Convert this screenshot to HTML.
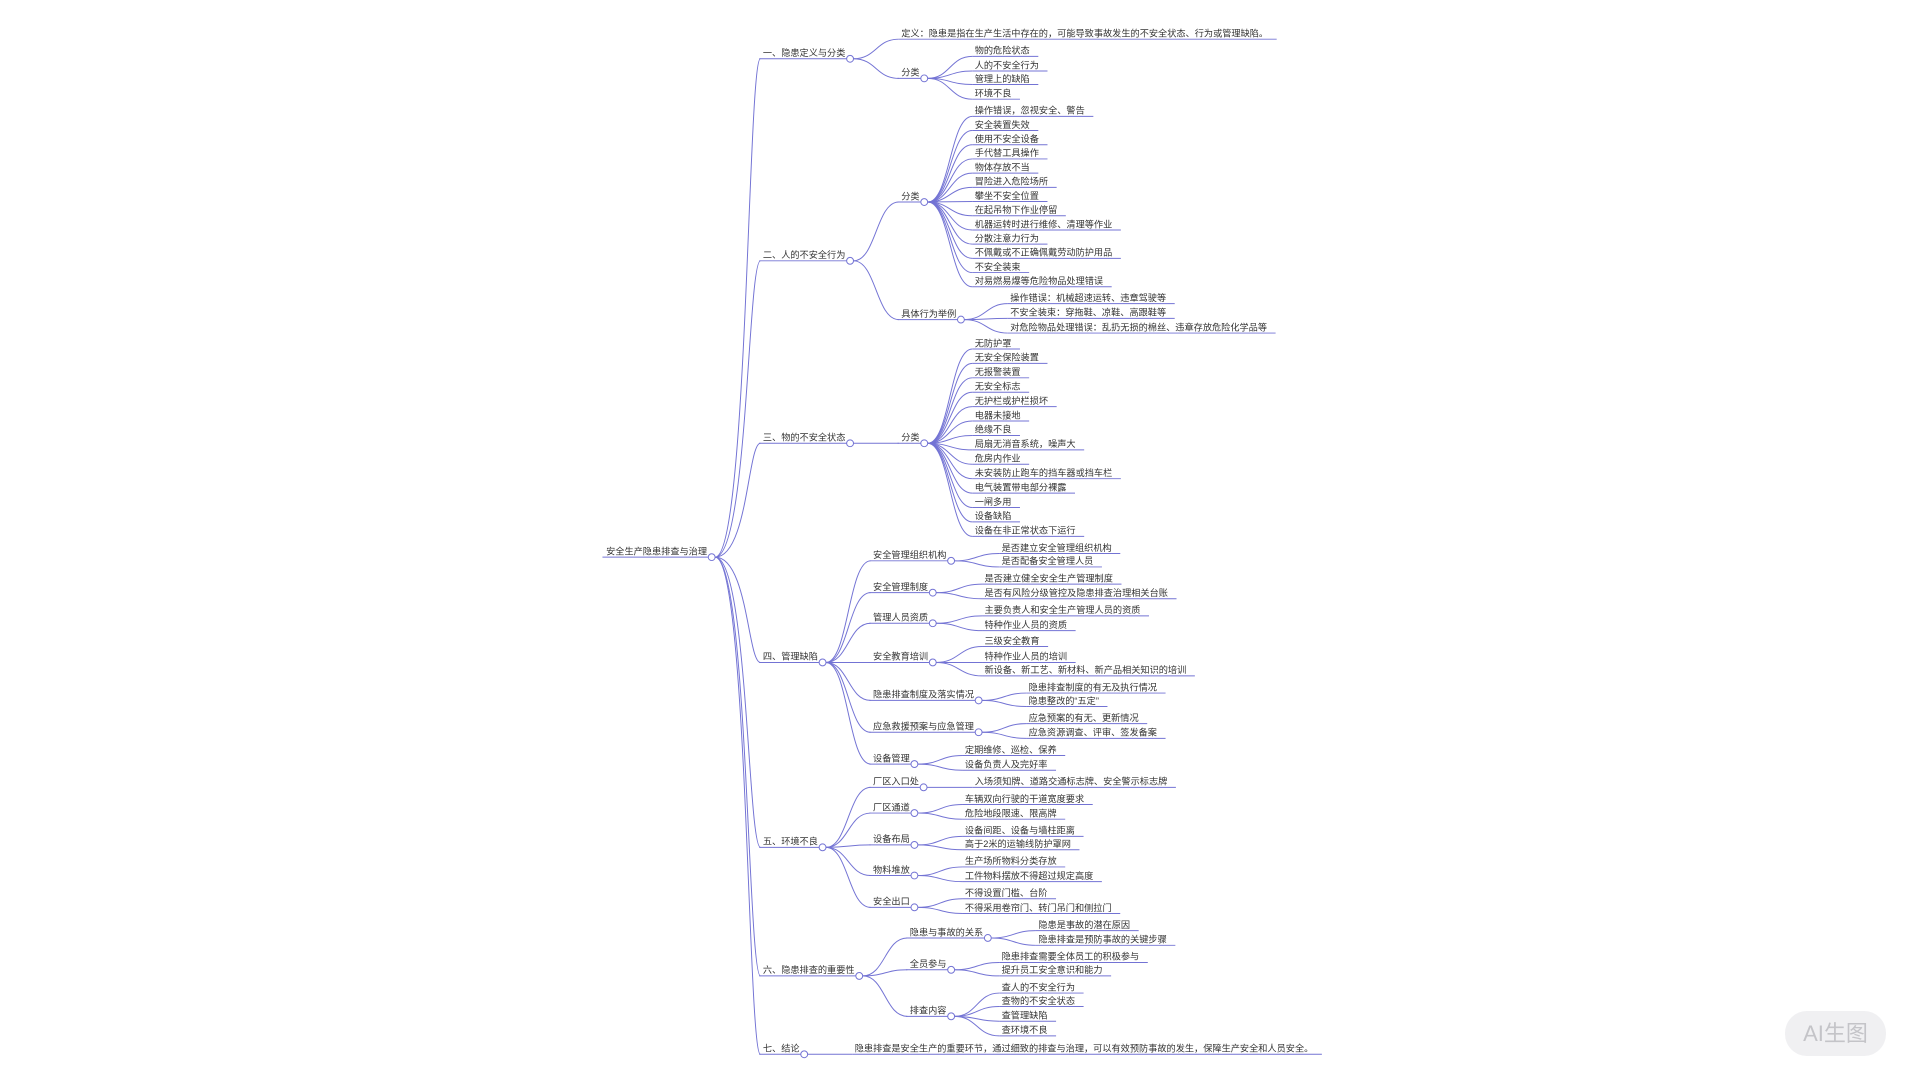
<!DOCTYPE html>
<html><head><meta charset="utf-8">
<style>
html,body{margin:0;padding:0;background:#fff;width:1920px;height:1080px;overflow:hidden}
svg{display:block}
text{font-family:"Liberation Sans","Noto Sans CJK SC",sans-serif;font-size:7.5px;fill:#333}
#wm{position:absolute;left:1785px;top:1011px;width:101px;height:45px;border-radius:22px;background:#f0f0f2;color:#c4c4c8;font:22px "Liberation Sans","Noto Sans CJK SC",sans-serif;text-align:center;line-height:45px}
</style></head><body>
<svg id="s" width="1920" height="1080" viewBox="0 0 1568 882" preserveAspectRatio="none"><g id="root" transform="translate(0,2)"></g></svg>
<div id="wm">AI生图</div>
<script>
const L=(x,ys,arr)=>arr.map((t,i)=>({t,x,y:ys[i]}));
const steps=(a,n,st)=>Array.from({length:n},(_,i)=>a+i*st);
const data={t:"安全生产隐患排查与治理",x:495,y:453,c:[
 {t:"一、隐患定义与分类",x:623,y:46,c:[
  {t:"定义：隐患是指在生产生活中存在的，可能导致事故发生的不安全状态、行为或管理缺陷。",x:736,y:30},
  {t:"分类",x:736,y:62,c:L(796,[44,56,67,79],["物的危险状态","人的不安全行为","管理上的缺陷","环境不良"])}]},
 {t:"二、人的不安全行为",x:623,y:211,c:[
  {t:"分类",x:736,y:163,c:L(796,steps(93,13,11.6),["操作错误，忽视安全、警告","安全装置失效","使用不安全设备","手代替工具操作","物体存放不当","冒险进入危险场所","攀坐不安全位置","在起吊物下作业停留","机器运转时进行维修、清理等作业","分散注意力行为","不佩戴或不正确佩戴劳动防护用品","不安全装束","对易燃易爆等危险物品处理错误"])},
  {t:"具体行为举例",x:736,y:259,c:L(825,[246,258,270],["操作错误：机械超速运转、违章驾驶等","不安全装束：穿拖鞋、凉鞋、高跟鞋等","对危险物品处理错误：乱扔无损的棉丝、违章存放危险化学品等"])}]},
 {t:"三、物的不安全状态",x:623,y:360,c:[
  {t:"分类",x:736,y:360,c:L(796,steps(283,14,11.77),["无防护罩","无安全保险装置","无报警装置","无安全标志","无护栏或护栏损坏","电器未接地","绝缘不良","局扇无消音系统，噪声大","危房内作业","未安装防止跑车的挡车器或挡车栏","电气装置带电部分裸露","一闸多用","设备缺陷","设备在非正常状态下运行"])}]},
 {t:"四、管理缺陷",x:623,y:539,c:[
  {t:"安全管理组织机构",x:713,y:456,c:L(818,[450,461],["是否建立安全管理组织机构","是否配备安全管理人员"])},
  {t:"安全管理制度",x:713,y:482,c:L(804,[475,487],["是否建立健全安全生产管理制度","是否有风险分级管控及隐患排查治理相关台账"])},
  {t:"管理人员资质",x:713,y:507,c:L(804,[501,513],["主要负责人和安全生产管理人员的资质","特种作业人员的资质"])},
  {t:"安全教育培训",x:713,y:539,c:L(804,[526,539,550],["三级安全教育","特种作业人员的培训","新设备、新工艺、新材料、新产品相关知识的培训"])},
  {t:"隐患排查制度及落实情况",x:713,y:570,c:L(840,[564,575],["隐患排查制度的有无及执行情况","隐患整改的“五定”"])},
  {t:"应急救援预案与应急管理",x:713,y:596,c:L(840,[589,601],["应急预案的有无、更新情况","应急资源调查、评审、签发备案"])},
  {t:"设备管理",x:713,y:622,c:L(788,[615,627],["定期维修、巡检、保养","设备负责人及完好率"])}]},
 {t:"五、环境不良",x:623,y:690,c:[
  {t:"厂区入口处",x:713,y:641,c:L(796,[641],["入场须知牌、道路交通标志牌、安全警示标志牌"])},
  {t:"厂区通道",x:713,y:662,c:L(788,[655,667],["车辆双向行驶的干道宽度要求","危险地段限速、限高牌"])},
  {t:"设备布局",x:713,y:688,c:L(788,[681,692],["设备间距、设备与墙柱距离","高于2米的运输线防护罩网"])},
  {t:"物料堆放",x:713,y:713,c:L(788,[706,718],["生产场所物料分类存放","工件物料摆放不得超过规定高度"])},
  {t:"安全出口",x:713,y:739,c:L(788,[732,744],["不得设置门槛、台阶","不得采用卷帘门、转门吊门和侧拉门"])}]},
 {t:"六、隐患排查的重要性",x:623,y:795,c:[
  {t:"隐患与事故的关系",x:743,y:764,c:L(848,[758,770],["隐患是事故的潜在原因","隐患排查是预防事故的关键步骤"])},
  {t:"全员参与",x:743,y:790,c:L(818,[784,795],["隐患排查需要全体员工的积极参与","提升员工安全意识和能力"])},
  {t:"排查内容",x:743,y:828,c:L(818,[809,820,832,844],["查人的不安全行为","查物的不安全状态","查管理缺陷","查环境不良"])}]},
 {t:"七、结论",x:623,y:859,c:[
  {t:"隐患排查是安全生产的重要环节，通过细致的排查与治理，可以有效预防事故的发生，保障生产安全和人员安全。",x:698,y:859}]}
]};
const NS="http://www.w3.org/2000/svg",svg=document.getElementById("root");
const gl=document.createElementNS(NS,"g"),gt=document.createElementNS(NS,"g"),gc=document.createElementNS(NS,"g");
svg.append(gl,gt,gc);
const C="#7373d4";
function el(g,tag,a){const e=document.createElementNS(NS,tag);for(const k in a)e.setAttribute(k,a[k]);g.appendChild(e);return e;}
function draw(n,px,py,root){
  const t=el(gt,"text",{x:n.x,y:n.y-2.2});t.textContent=n.t;
  const w=t.getComputedTextLength();
  if(px!==undefined){
    const x0=px+2.8,x1=n.x-2,dx=x1-x0,k=root?0.72:0.5;
    el(gl,"path",{d:`M${x0},${py} C${x0+dx*k},${py} ${x0+dx*k},${n.y} ${x1},${n.y}`,fill:"none",stroke:C,"stroke-width":0.8});
  }
  if(n.c){
    const cx=n.x+w+3.8;
    el(gl,"line",{x1:n.x-3,y1:n.y,x2:cx-2.8,y2:n.y,stroke:C,"stroke-width":0.8});
    n.c.forEach(ch=>draw(ch,cx,n.y,n===data));
    el(gc,"circle",{cx:cx,cy:n.y,r:2.8,fill:"#fff",stroke:C,"stroke-width":0.8});
  }else{
    el(gl,"line",{x1:n.x-2,y1:n.y,x2:n.x+w+7,y2:n.y,stroke:C,"stroke-width":0.8});
  }
}
draw(data);
</script>
</body></html>
